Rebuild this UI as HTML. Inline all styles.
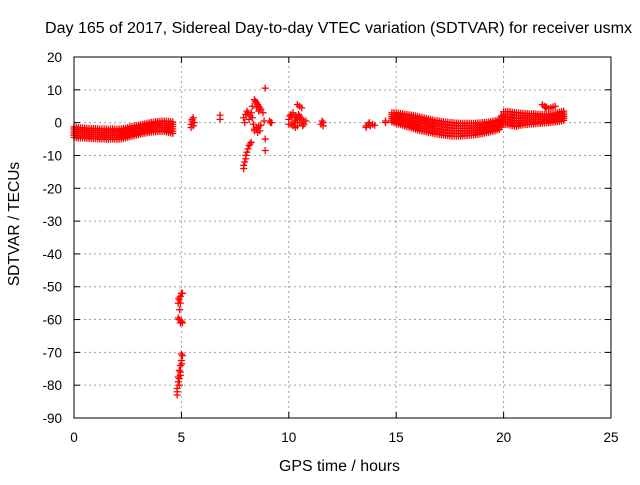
<!DOCTYPE html>
<html><head><meta charset="utf-8"><style>
body{margin:0;background:#fff}
svg{font-family:"Liberation Sans",sans-serif}
</style></head><body>
<svg width="640" height="480" id="chart">
<text x="45" y="33" font-size="15.5" textLength="587" lengthAdjust="spacingAndGlyphs">Day 165 of 2017, Sidereal Day-to-day VTEC variation (SDTVAR) for receiver usmx</text>
<text x="279" y="471" font-size="15.5" textLength="121" lengthAdjust="spacingAndGlyphs">GPS time / hours</text>
<text x="0" y="0" font-size="15.5" text-anchor="middle" transform="translate(19,224) rotate(-90)">SDTVAR / TECUs</text>
<g id="grid"></g><g id="ticks"></g><g id="marks"></g>
<rect x="74" y="57" width="537" height="361" fill="none" stroke="#000"/>
</svg>
<script>
const xTicks=[0,5,10,15,20,25];
const yTicks=[-90,-80,-70,-60,-50,-40,-30,-20,-10,0,10,20];
const bandHours=[0,0.2,0.4,0.6,0.8,1,1.2,1.4,1.6,1.8,2,2.2,2.4,2.6,2.8,3,3.2,3.4,3.6,3.8,4,4.2,4.4,4.6,
14.8,15,15.2,15.4,15.6,15.8,16,16.2,16.4,16.6,16.8,17,17.2,17.4,17.6,17.8,18,18.2,18.4,18.6,18.8,19,19.2,19.4,19.6,19.8,20,20.2,20.4,20.6,20.8,21,21.2,21.4,21.6,21.8,22,22.2,22.4,22.6,22.8];
const bandUpper=[-1.3,-1.5,-1.6,-1.7,-1.8,-1.8,-1.9,-1.9,-2,-1.9,-2,-1.9,-1.7,-1.3,-1,-0.8,-0.5,-0.2,0.1,0.3,0.4,0.5,0.4,0.2,
3,3,2.8,2.6,2.4,2.2,1.9,1.6,1.3,1,0.7,0.5,0.3,0.1,0,-0.1,-0.2,-0.2,-0.2,-0.2,-0.1,0,0.1,0.3,0.6,0.9,3.3,3.4,3.2,3,2.9,2.8,2.7,2.7,2.6,2.5,2.5,2.6,2.8,3.2,3.5];
const bandLower=[-4.5,-4.7,-4.7,-4.8,-4.9,-4.9,-5,-5,-5.1,-5,-5.1,-5,-4.7,-4.3,-4,-3.7,-3.4,-3.1,-2.9,-2.8,-2.7,-2.7,-3,-3.3,
0.2,-0.3,-0.6,-1.1,-1.4,-1.8,-2.3,-2.6,-2.8,-3.1,-3.4,-3.6,-3.8,-4,-4.1,-4.1,-4.1,-4,-3.9,-3.8,-3.6,-3.4,-3.1,-2.8,-2.5,-2.1,-0.5,-0.6,-1,-1.2,-0.8,-0.6,-0.5,-0.4,-0.3,-0.2,-0.1,0,0.2,0.4,0.7];
const scatterHours=[5.45,5.5,5.55,5.5,5.6,5.45,5.55,6.8,6.8,7.9,7.9,7.95,8,8,8.05,8.1,8.15,8.2,8.25,7.9,8,8.1,8.2,8.3,7.95,8.05,8.15,8.25,8.35,8.4,8.5,8.6,8.7,8.8,8.5,8.6,8.3,8.45,8.55,8.65,8.4,8.5,8.6,8.7,8.4,8.5,8.55,8.65,8.9,8.9,8.9,8.85,9.15,9.2,9.1,
10,10.1,10.2,10.3,10.4,10.5,10.6,10.7,10.1,10.2,10.4,10,10.3,10.5,10.7,10.15,10.25,10.35,10.45,10.55,10.65,10.8,10.05,10.3,10.6,10.4,10.5,10.6,11.5,11.6,11.6,11.55,13.6,13.7,13.8,13.9,13.6,14,13.75,14.5,14.5,21.8,21.9,22,22.2,22.3,22.4,22.1,21.95,
4.85,4.9,4.95,5,5.05,4.95,4.85,4.9,5,5.05,4.95,5,5.05,5,4.95,4.9,4.95,4.9,4.85,4.85,4.8,4.8,4.8,4.9,4.95,5.02,4.92,4.88];
const scatterValues=[-0.5,0.5,-1,1,0,-1.5,1.5,1,2.3,-14,-13,-12,-11,-10,-9,-8,-7,-6.5,-6,1.5,2.5,3,2,1.5,0,3.5,1,3,-0.5,7,6,5,4,3,4.5,3.5,5,6.5,5.5,4.5,-2,-1.5,-1,-0.8,-2.5,-2,-3,-2.5,10.5,-5,-8.5,0.5,0,0,0.5,
1,2.5,3,2,1,0,1,0.5,-0.5,-1,-1,-0.5,0.5,2,-0.5,1.5,0,1.5,2.5,1.5,-1,0.5,2,-1.5,0,5.5,5,4.5,-0.5,0,-1,0.5,-1,-0.5,-1,-0.5,-1.5,-0.8,0,0,0.5,5.5,5,4.8,4.5,4.8,5,4.3,4.5,
-55,-54,-53,-52,-52,-55,-59.5,-60,-60.5,-61,-61,-70.5,-71,-72.5,-74,-75.5,-77,-78,-77.5,-79,-81,-82,-83,-80,-76,-73.5,-57,-53.5];
const NS='http://www.w3.org/2000/svg';
const X0=74,X1=611,Y0=418,Y1=57,XMIN=0,XMAX=25,YMIN=-90,YMAX=20;
function sx(v){return X0+(v-XMIN)/(XMAX-XMIN)*(X1-X0);}
function sy(v){return Y0-(v-YMIN)/(YMAX-YMIN)*(Y0-Y1);}
function mk(tag,attrs,parent){const e=document.createElementNS(NS,tag);for(const k in attrs)e.setAttribute(k,attrs[k]);parent.appendChild(e);return e;}
const grid=document.getElementById('grid'),ticks=document.getElementById('ticks'),marks=document.getElementById('marks');
xTicks.forEach(t=>{const x=sx(t);
 if(t>XMIN&&t<XMAX){const g=mk('line',{x1:x,x2:x,y1:Y0,y2:Y1,stroke:'#a0a0a0','stroke-dasharray':'2,3'},grid);
 
 }
 mk('line',{x1:x,x2:x,y1:Y0,y2:Y0-6,stroke:'#000'},ticks);mk('line',{x1:x,x2:x,y1:Y1,y2:Y1+6,stroke:'#000'},ticks);
 const l=mk('text',{x:x,y:Y0+24,'font-size':13.5,'text-anchor':'middle'},ticks);l.textContent=t;
 
 });
yTicks.forEach(t=>{const y=sy(t);
 if(t>YMIN&&t<YMAX){const g=mk('line',{x1:X0,x2:X1,y1:y,y2:y,stroke:'#a0a0a0','stroke-dasharray':'2,3'},grid);
 
 }
 mk('line',{x1:X0,x2:X0+6,y1:y,y2:y,stroke:'#000'},ticks);mk('line',{x1:X1,x2:X1-6,y1:y,y2:y,stroke:'#000'},ticks);
 const l=mk('text',{x:X0-12,y:y+5,'font-size':13.5,'text-anchor':'end'},ticks);l.textContent=t;
 
 });
function plus(h,v){const x=sx(h),y=sy(v);
 const p=mk('path',{d:`M${x-3.5},${y}h7M${x},${y-3.5}v7`,stroke:'#f00','stroke-width':1.3,fill:'none'},marks);
 
 }
const n=Math.min(bandHours.length,bandUpper.length,bandLower.length);
for(let i=0;i<n;i++){const u=bandUpper[i],lo=bandLower[i];
 for(let k=0;k<=5;k++){plus(bandHours[i],u+(lo-u)*k/5);}
 if(i+1<n&&bandHours[i+1]-bandHours[i]<0.3){const h=(bandHours[i]+bandHours[i+1])/2;
  const mu=(u+bandUpper[i+1])/2,ml=(lo+bandLower[i+1])/2;
  for(let k=0;k<=5;k++){plus(h,mu+(ml-mu)*k/5);}}}
const m=Math.min(scatterHours.length,scatterValues.length);
for(let i=0;i<m;i++)plus(scatterHours[i],scatterValues[i]);
</script>
</body></html>
